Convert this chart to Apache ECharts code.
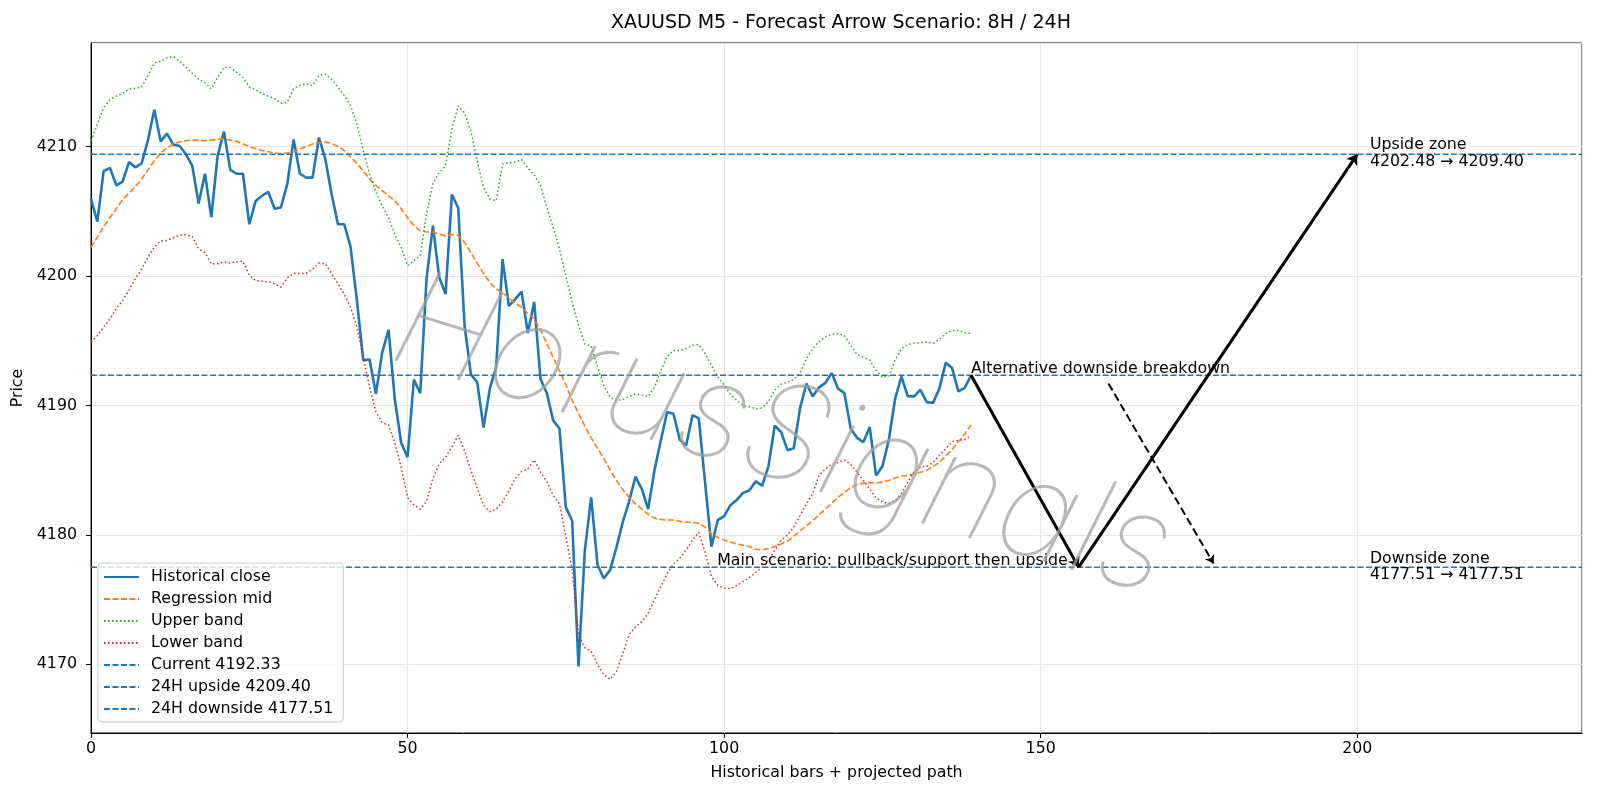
<!DOCTYPE html>
<html>
<head>
<meta charset="utf-8">
<script src="https://cdn.jsdelivr.net/npm/echarts@6/dist/echarts.min.js"></script>
<style>
  html, body { margin: 0; padding: 0; background: #fff; }
  #main { width: 1600px; height: 800px; }
</style>
</head>
<body>
<div id="main"></div>
<script>
var dom = document.getElementById("main");
var myChart = echarts.init(dom);

// historical close, bar index 0..139
var closeVals = [
  4205.96, 4204.2, 4208.1, 4208.35, 4207.0, 4207.3, 4208.8, 4208.4, 4208.7, 4210.5,
  4212.85, 4210.4, 4211.0, 4210.15, 4210.05, 4209.4, 4208.5, 4205.6, 4207.9, 4204.55,
  4209.3, 4211.15, 4208.2, 4207.9, 4207.9, 4204.0, 4205.8, 4206.2, 4206.5, 4205.2,
  4205.3, 4207.1, 4210.55, 4207.9, 4207.6, 4207.6, 4210.7, 4209.05, 4206.35, 4204.0,
  4204.0, 4202.25, 4198.1, 4193.5, 4193.55, 4190.9, 4194.1, 4195.85, 4190.4, 4187.1,
  4186.0, 4192.0, 4190.95, 4199.8, 4203.9, 4199.9, 4198.6, 4206.3, 4205.25, 4196.2,
  4192.4, 4191.8, 4188.3, 4191.3, 4193.0, 4201.3, 4197.7, 4198.2, 4198.8, 4195.6,
  4198.0, 4192.05, 4190.95, 4188.85, 4188.2, 4182.15, 4181.1, 4169.85, 4178.8, 4182.9,
  4177.7, 4176.64, 4177.3, 4179.05, 4181.0, 4182.6, 4184.5, 4183.55, 4182.0, 4185.0,
  4187.3, 4189.5, 4189.36, 4187.35, 4186.9, 4189.25, 4189.0, 4184.0, 4179.1, 4181.15,
  4181.45, 4182.3, 4182.7, 4183.25, 4183.45, 4184.15, 4183.8, 4185.3, 4188.45, 4187.95,
  4186.55, 4186.7, 4189.8, 4191.7, 4190.7, 4191.4, 4191.75, 4192.5, 4191.3, 4190.95,
  4188.2, 4187.5, 4187.17, 4188.33, 4184.6, 4185.3, 4187.3, 4190.5, 4192.24, 4190.72,
  4190.7, 4191.2, 4190.26, 4190.2, 4191.3, 4193.3, 4192.9, 4191.08, 4191.36, 4192.33
];

var midVals = [
  4202.2, 4203.0, 4203.8, 4204.5, 4205.2, 4205.9, 4206.4, 4206.9, 4207.5, 4208.2,
  4208.9, 4209.5, 4209.9, 4210.2, 4210.35, 4210.45, 4210.5, 4210.5, 4210.45, 4210.5,
  4210.55, 4210.6, 4210.5, 4210.4, 4210.2, 4210.0, 4209.85, 4209.7, 4209.6, 4209.5,
  4209.45, 4209.5, 4209.6, 4209.8, 4210.0, 4210.2, 4210.3, 4210.35, 4210.25, 4210.0,
  4209.7, 4209.2, 4208.7, 4208.1, 4207.5, 4207.0, 4206.6, 4206.2, 4205.8, 4205.2,
  4204.5, 4203.9, 4203.5, 4203.4, 4203.4, 4203.25, 4203.1, 4203.2, 4203.15, 4202.6,
  4201.8, 4201.0, 4200.2, 4199.5, 4199.0, 4198.7, 4198.3, 4197.9, 4197.6, 4197.1,
  4196.7, 4195.8, 4194.8, 4193.7, 4192.7, 4191.6, 4190.4, 4189.4, 4188.4, 4187.5,
  4186.7, 4185.9, 4185.0, 4184.2, 4183.5, 4182.9, 4182.4, 4182.0, 4181.6, 4181.3,
  4181.2, 4181.15, 4181.15, 4181.05, 4181.0, 4180.95, 4180.9, 4180.6, 4180.1, 4179.8,
  4179.6, 4179.45, 4179.3, 4179.2, 4179.1, 4178.9, 4178.85, 4178.95, 4179.1, 4179.3,
  4179.5, 4179.9, 4180.3, 4180.7, 4181.1, 4181.55, 4182.0, 4182.45, 4182.9, 4183.3,
  4183.65, 4183.9, 4184.0, 4184.05, 4184.0, 4184.1, 4184.2, 4184.4, 4184.55, 4184.6,
  4184.7, 4184.85, 4185.0, 4185.3, 4185.6, 4186.1, 4186.6, 4187.2, 4187.8, 4188.5
];

var upperVals = [
  4210.46, 4211.75, 4213.0, 4213.6, 4213.9, 4214.1, 4214.45, 4214.5, 4214.6, 4215.5,
  4216.45, 4216.6, 4216.85, 4216.95, 4216.6, 4216.15, 4215.65, 4215.2, 4214.95, 4214.45,
  4215.35, 4216.1, 4216.1, 4215.75, 4215.35, 4214.6, 4214.4, 4214.1, 4213.9, 4213.7,
  4213.35, 4213.4, 4214.45, 4214.75, 4214.85, 4214.7, 4215.5, 4215.6, 4215.2, 4214.6,
  4213.95, 4213.15, 4211.75, 4209.7, 4207.9, 4206.5, 4205.4, 4204.5, 4203.2, 4202.2,
  4200.8, 4201.2, 4201.55, 4204.8, 4207.15, 4208.0, 4208.5, 4211.35, 4213.15, 4212.6,
  4211.2, 4208.9, 4206.85, 4205.95, 4205.8, 4208.65, 4208.75, 4208.8, 4209.0, 4208.35,
  4207.8, 4207.0, 4205.3, 4203.75, 4202.1, 4200.0, 4198.0, 4196.2, 4194.75, 4194.6,
  4193.0, 4191.55, 4190.65, 4190.4, 4190.45, 4190.7, 4190.9, 4190.8, 4190.7, 4191.4,
  4192.7, 4193.8, 4194.25, 4194.25, 4194.4, 4194.65, 4194.7, 4194.0, 4193.1, 4192.2,
  4191.6, 4190.85, 4190.4, 4190.0, 4189.9, 4189.75, 4189.8, 4190.3, 4191.2, 4191.65,
  4191.8, 4192.0, 4192.5, 4193.6, 4194.4, 4194.95, 4195.3, 4195.5, 4195.55, 4195.4,
  4194.65, 4193.95, 4193.7, 4193.5, 4192.7, 4192.2, 4192.25, 4193.5, 4194.4, 4194.7,
  4194.8, 4194.85, 4194.9, 4194.8, 4195.1, 4195.55, 4195.8, 4195.8, 4195.6, 4195.55
];

var lowerVals = [
  4194.9, 4195.4, 4196.05, 4196.7, 4197.5, 4198.1, 4198.9, 4199.8, 4200.55, 4201.45,
  4202.25, 4202.7, 4202.75, 4202.95, 4203.15, 4203.2, 4203.05, 4202.1, 4201.8, 4200.95,
  4200.95, 4201.1, 4201.0, 4201.1, 4201.15, 4200.05, 4199.65, 4199.6, 4199.55, 4199.4,
  4199.15, 4199.85, 4200.2, 4200.2, 4200.2, 4200.55, 4201.0, 4200.95, 4200.2, 4199.4,
  4198.6, 4197.6, 4196.05, 4193.75, 4191.45, 4189.5, 4188.65, 4188.5, 4187.1, 4185.2,
  4182.9, 4182.3, 4182.0, 4182.6, 4184.35, 4185.5, 4186.0, 4186.8, 4187.7, 4186.5,
  4185.0, 4183.6, 4182.3, 4181.8, 4182.0, 4182.55, 4183.4, 4184.35, 4184.9, 4185.1,
  4185.8, 4184.85, 4184.1, 4183.05, 4182.4, 4179.85, 4177.3, 4172.3, 4171.3, 4171.0,
  4170.0, 4169.2, 4168.85, 4169.45, 4170.85, 4172.3, 4172.9, 4173.3, 4173.95, 4175.0,
  4176.0, 4177.0, 4177.75, 4178.2, 4178.85, 4179.6, 4180.2, 4178.65, 4176.8, 4176.1,
  4175.9, 4175.85, 4176.1, 4176.4, 4176.7, 4177.1, 4177.5, 4178.05, 4178.8, 4179.6,
  4180.0, 4180.6, 4181.5, 4182.4, 4183.2, 4184.6, 4185.1, 4185.45, 4185.6, 4185.8,
  4185.45, 4184.85, 4184.2, 4183.55, 4182.85, 4182.55, 4182.45, 4182.65, 4183.2, 4184.1,
  4184.9, 4185.25, 4185.3, 4185.6, 4186.15, 4186.65, 4187.2, 4187.3, 4187.35, 4187.7
];

var current = 4192.33;
var upside = 4209.40;
var upsideFrom = 4202.48;
var downside = 4177.51;
var lastBar = 139;
var pullbackBar = 156;
var targetBar = 200;
var altStart = [160.7, 4191.7];
var altEnd = [177.3, 4177.8];
var xMax = 235.5;

var FONT = 'DejaVu Sans';
var FS = 15.8;
var BLUE = '#1f77b4';

function indexed(vals) {
    return vals.map(function (v, i) { return [i, v]; });
}
function hline(v) {
    return [[0, v], [xMax, v]];
}
function textMark(x, y, text, opts) {
    return {
        type: 'scatter',
        symbolSize: 0,
        silent: true,
        z: 6,
        itemStyle: { opacity: 1 },
        data: [[x, y]],
        label: {
            show: true,
            formatter: text,
            position: opts.pos,
            align: 'left',
            verticalAlign: opts.va,
            lineHeight: opts.lh || 16,
            fontSize: FS,
            fontFamily: FONT,
            color: '#000',
            opacity: 1
        }
    };
}

option = {
    backgroundColor: '#fff',
    animation: false,
    title: {
        text: 'XAUUSD M5 - Forecast Arrow Scenario: 8H / 24H',
        left: 836,
        top: 9,
        textAlign: 'center',
        textStyle: { fontSize: 19, fontWeight: 'normal', color: '#000', fontFamily: FONT }
    },
    grid: {
        left: 91, right: 18, top: 43, bottom: 67,
        show: true, borderColor: '#000', borderWidth: 1
    },
    legend: {
        data: ['Historical close', 'Regression mid', 'Upper band', 'Lower band',
               'Current 4192.33', '24H upside 4209.40', '24H downside 4177.51'],
        orient: 'vertical',
        left: 98,
        top: 563,
        itemWidth: 35,
        itemHeight: 16,
        itemGap: 6,
        padding: [6, 10, 5, 5],
        backgroundColor: 'rgba(255,255,255,0.8)',
        borderColor: '#cccccc',
        borderWidth: 1,
        borderRadius: 4,
        selectedMode: false,
        itemStyle: { opacity: 0 },
        textStyle: { fontSize: FS, color: '#000', fontFamily: FONT, padding: [0, 0, 0, 7] }
    },
    xAxis: {
        type: 'value',
        min: 0,
        max: xMax,
        interval: 50,
        name: 'Historical bars + projected path',
        nameLocation: 'middle',
        nameGap: 32,
        nameTextStyle: { fontSize: FS, color: '#000', fontFamily: FONT },
        axisLine: { lineStyle: { color: '#000' } },
        axisTick: { show: true, length: 5, lineStyle: { color: '#000' } },
        axisLabel: { fontSize: FS, color: '#000', fontFamily: FONT, margin: 8, showMaxLabel: false },
        splitLine: { show: true, lineStyle: { color: '#e6e6e6', width: 1.2 } }
    },
    yAxis: {
        type: 'value',
        min: 4164.7,
        max: 4218.0,
        splitNumber: 5,
        name: 'Price',
        nameLocation: 'middle',
        nameGap: 49,
        nameTextStyle: { fontSize: FS, color: '#000', fontFamily: FONT },
        axisLine: { show: true, lineStyle: { color: '#000' } },
        axisTick: { show: true, length: 5, lineStyle: { color: '#000' } },
        axisLabel: { fontSize: FS, color: '#000', fontFamily: FONT, margin: 14,
                     showMinLabel: false, showMaxLabel: false,
                     formatter: function (v) { return String(v); } },
        splitLine: { show: true, lineStyle: { color: '#e6e6e6', width: 1.2 } }
    },
    series: [
        {
            name: 'Historical close', type: 'line', data: indexed(closeVals),
            symbol: 'none', z: 3,
            lineStyle: { color: BLUE, width: 2.6 }, itemStyle: { color: BLUE }
        },
        {
            name: 'Regression mid', type: 'line', data: indexed(midVals),
            symbol: 'none', z: 3,
            lineStyle: { color: '#ff7f0e', width: 1.6, type: [6, 2.5] }, itemStyle: { color: '#ff7f0e' }
        },
        {
            name: 'Upper band', type: 'line', data: indexed(upperVals),
            symbol: 'none', z: 3,
            lineStyle: { color: '#2ca02c', width: 1.5, type: [1.5, 2.5] }, itemStyle: { color: '#2ca02c' }
        },
        {
            name: 'Lower band', type: 'line', data: indexed(lowerVals),
            symbol: 'none', z: 3,
            lineStyle: { color: '#d62728', width: 1.5, type: [1.5, 2.5] }, itemStyle: { color: '#d62728' }
        },
        {
            name: 'Current 4192.33', type: 'line', data: hline(current),
            symbol: 'none', z: 3,
            lineStyle: { color: BLUE, width: 1.5, type: [6, 2.5] }, itemStyle: { color: BLUE }
        },
        {
            name: '24H upside 4209.40', type: 'line', data: hline(upside),
            symbol: 'none', z: 3,
            lineStyle: { color: BLUE, width: 1.5, type: [6, 2.5] }, itemStyle: { color: BLUE }
        },
        {
            name: '24H downside 4177.51', type: 'line', data: hline(downside),
            symbol: 'none', z: 3,
            lineStyle: { color: BLUE, width: 1.5, type: [6, 2.5] }, itemStyle: { color: BLUE }
        },
        // scenario arrows
        {
            type: 'lines', coordinateSystem: 'cartesian2d', silent: true, z: 5,
            symbol: ['none', 'arrow'], symbolSize: 10,
            lineStyle: { color: '#000', width: 3, opacity: 1 },
            data: [
                { coords: [[lastBar, current], [pullbackBar, downside]] },
                { coords: [[pullbackBar, downside], [targetBar, upside]] }
            ]
        },
        {
            type: 'lines', coordinateSystem: 'cartesian2d', silent: true, z: 5,
            symbol: ['none', 'arrow'], symbolSize: 8,
            lineStyle: { color: '#000', width: 2, type: [8, 4], opacity: 1 },
            data: [ { coords: [altStart, altEnd] } ]
        },
        textMark(lastBar, current, 'Alternative downside breakdown', { pos: [0, 2], va: 'bottom' }),
        textMark(98.9, downside, 'Main scenario: pullback/support then upside', { pos: [0, 2], va: 'bottom' }),
        textMark(202, upside, 'Upside zone\n' + upsideFrom.toFixed(2) + ' \u2192 ' + upside.toFixed(2), { pos: [0, -1], va: 'middle', lh: 16.3 }),
        textMark(202, downside, 'Downside zone\n' + downside.toFixed(2) + ' \u2192 ' + downside.toFixed(2), { pos: [0, 0], va: 'middle', lh: 16.3 })
    ],
    graphic: [
        {
            type: 'text',
            x: 782, y: 438,
            rotation: -0.30,
            z: 100,
            silent: true,
            style: {
                text: 'HorusSignals',
                font: 'italic 100 134px Inter, Roboto, "DejaVu Sans"',
                fill: 'rgba(160,160,160,0.75)',
                align: 'center',
                verticalAlign: 'middle',
                shadowColor: 'rgba(0,0,0,0.16)',
                shadowBlur: 2,
                shadowOffsetX: 4,
                shadowOffsetY: 4
            }
        }
    ]
};

if (option && typeof option === "object") {
    myChart.setOption(option, true);
}
</script>
</body>
</html>
